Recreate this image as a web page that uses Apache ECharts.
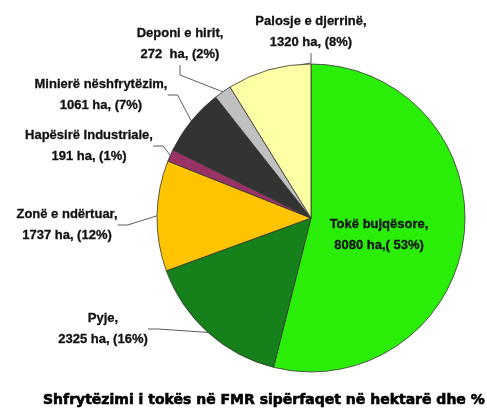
<!DOCTYPE html>
<html>
<head>
<meta charset="utf-8">
<script src="https://cdn.jsdelivr.net/npm/echarts@6/dist/echarts.min.js"></script>
<style>
html,body{margin:0;padding:0;background:#fff;}
#chart{width:487px;height:410px;}
</style>
</head>
<body>
<div id="chart"></div>
<script>
// Data
const categories = ['Tokë bujqësore', 'Pyje', 'Zonë e ndërtuar', 'Hapësirë Industriale', 'Minierë nëshfrytëzim', 'Deponi e hirit', 'Palosje e djerrinë'];
const areaHa = [8080, 2325, 1737, 191, 1061, 272, 1320];
const percentLabels = [53, 16, 12, 1, 7, 2, 8];
const titleText = 'Shfrytëzimi i tokës në FMR sipërfaqet në hektarë dhe %';

// Styles / layout (kept separate from data)
const colors = ['#2aee08', '#16801a', '#ffc400', '#993366', '#333333', '#c0c0c0', '#ffffa6'];
const labelPos = [
  [379, 235], [103, 329], [67, 225], [89, 146], [101, 95], [180, 44], [311, 32]
];

const chart = echarts.init(document.getElementById('chart'));
const data = categories.map((c, i) => ({
  name: c,
  value: areaHa[i],
  itemStyle: { color: colors[i] },
  label: i === 0 ? { position: 'inside' } : {},
  labelLine: i === 0 ? { show: false } : {}
}));

chart.setOption({
  animation: false,
  title: {
    text: titleText,
    left: 38,
    top: 388,
    textStyle: { fontFamily: 'DejaVu Sans', fontWeight: 'bold', fontSize: 14, color: '#000', textBorderColor: '#000', textBorderWidth: 0.6 }
  },
  series: [{
    type: 'pie',
    center: [311, 218],
    radius: [0, 154],
    startAngle: 90,
    clockwise: true,
    avoidLabelOverlap: false,
    itemStyle: { borderColor: '#333', borderWidth: 0.8 },
    label: {
      show: true,
      position: 'outside',
      fontFamily: 'Liberation Sans',
      fontWeight: 'bold',
      fontSize: 13,
      lineHeight: 21,
      color: '#111',
      textBorderColor: '#111',
      textBorderWidth: 0.3,
      align: 'center',
      formatter: function (p) {
        const i = p.dataIndex;
        if (i === 0) return p.name + ',\n' + p.value + ' ha,( ' + percentLabels[i] + '%)';
        return p.name + ',\n' + p.value + (i === 5 ? '  ha' : ' ha') + ', (' + percentLabels[i] + '%)';
      }
    },
    labelLine: { show: true, length: 10, length2: 10, lineStyle: { color: '#333', width: 0.8 } },
    labelLayout: function (params) {
      const pos = labelPos[params.dataIndex];
      return { x: pos[0], y: pos[1], align: 'center', verticalAlign: 'middle' };
    },
    emphasis: { disabled: true },
    data: data
  }]
});
</script>
</body>
</html>
